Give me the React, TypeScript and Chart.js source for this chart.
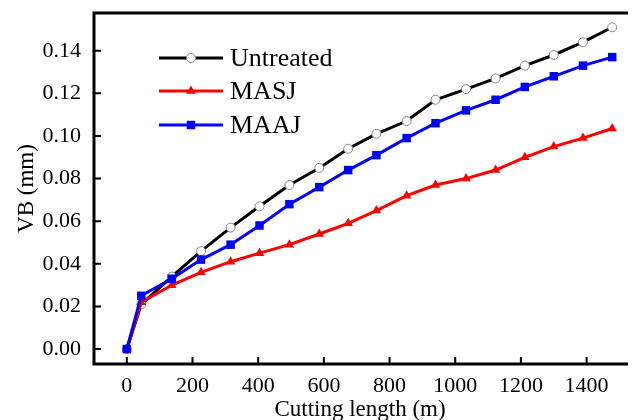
import React, { useEffect, useRef } from "react";
import { Chart, registerables } from "chart.js";

Chart.register(...registerables);

const cuttingLength = [0, 44, 137, 226, 316, 404, 495, 586, 674, 760, 852, 940, 1033, 1123, 1212, 1300, 1389, 1478];
const untreated = [0, 0.021, 0.034, 0.046, 0.057, 0.067, 0.077, 0.085, 0.094, 0.101, 0.107, 0.117, 0.122, 0.127, 0.133, 0.138, 0.144, 0.151];
const masj = [0, 0.022, 0.030, 0.036, 0.041, 0.045, 0.049, 0.054, 0.059, 0.065, 0.072, 0.077, 0.080, 0.084, 0.090, 0.095, 0.099, 0.1035];
const maaj = [0, 0.025, 0.033, 0.042, 0.049, 0.058, 0.068, 0.076, 0.084, 0.091, 0.099, 0.106, 0.112, 0.117, 0.123, 0.128, 0.133, 0.137];
const xTicks = [0, 200, 400, 600, 800, 1000, 1200, 1400];
const yTicks = [0, 0.02, 0.04, 0.06, 0.08, 0.1, 0.12, 0.14];
const seriesNames = ["Untreated", "MASJ", "MAAJ"];

const FONT = "'Liberation Serif', 'Times New Roman', serif";

function drawMarker(ctx: CanvasRenderingContext2D, style: string, x: number, y: number, r: number, fill: string, stroke: string, bw: number) {
  ctx.save();
  ctx.fillStyle = fill;
  ctx.strokeStyle = stroke;
  ctx.lineWidth = bw;
  ctx.beginPath();
  if (style === "circle") {
    ctx.arc(x, y, r, 0, Math.PI * 2);
  } else if (style === "triangle") {
    ctx.moveTo(x, y - r);
    ctx.lineTo(x + r * 0.866, y + r * 0.5);
    ctx.lineTo(x - r * 0.866, y + r * 0.5);
    ctx.closePath();
  } else {
    const s = r * 0.7071;
    ctx.rect(x - s, y - s, 2 * s, 2 * s);
  }
  ctx.fill();
  if (bw > 0) ctx.stroke();
  ctx.restore();
}

const framePlugin = {
  id: "frame",
  afterDatasetsDraw(chart: any) {
    const { ctx, chartArea } = chart;
    const { left, top, right, bottom } = chartArea;
    const xs = chart.scales.x;
    const ys = chart.scales.y;
    ctx.save();
    ctx.strokeStyle = "#000";
    ctx.lineWidth = 2;
    ctx.beginPath();
    xTicks.forEach((v) => {
      const px = xs.getPixelForValue(v);
      ctx.moveTo(px, bottom);
      ctx.lineTo(px, bottom - 7);
    });
    yTicks.forEach((v) => {
      const py = ys.getPixelForValue(v);
      ctx.moveTo(left, py);
      ctx.lineTo(left + 7, py);
    });
    ctx.stroke();
    ctx.lineWidth = 3;
    ctx.beginPath();
    ctx.moveTo(right + 2, top);
    ctx.lineTo(left, top);
    ctx.lineTo(left, bottom);
    ctx.lineTo(right + 2, bottom);
    ctx.stroke();

    const rows = [58, 91, 125];
    chart.data.datasets.forEach((ds: any, i: number) => {
      const y = rows[i];
      ctx.strokeStyle = ds.borderColor;
      ctx.lineWidth = 3;
      ctx.beginPath();
      ctx.moveTo(159, y);
      ctx.lineTo(223, y);
      ctx.stroke();
      drawMarker(ctx, ds.pointStyle, 191, y, ds.pointRadius, ds.pointBackgroundColor, ds.pointBorderColor, ds.pointBorderWidth);
      ctx.fillStyle = "#000";
      ctx.font = `26px ${FONT}`;
      ctx.textBaseline = "middle";
      ctx.textAlign = "left";
      ctx.fillText(ds.label, 230, y + 1);
    });
    ctx.restore();
  },
};

export default function App() {
  const ref = useRef<HTMLCanvasElement>(null);
  useEffect(() => {
    if (!ref.current) return;
    const mk = (vals: number[]) => cuttingLength.map((x, i) => ({ x, y: vals[i] }));
    const chart = new Chart(ref.current, {
      type: "line",
      data: {
        datasets: [
          {
            label: seriesNames[0],
            data: mk(untreated),
            borderColor: "#000000",
            borderWidth: 3,
            pointStyle: "circle",
            pointRadius: 4.5,
            pointBackgroundColor: "#ffffff",
            pointBorderColor: "#8a8a8a",
            pointBorderWidth: 1,
            order: 3,
          },
          {
            label: seriesNames[1],
            data: mk(masj),
            borderColor: "#ff0000",
            borderWidth: 3,
            pointStyle: "triangle",
            pointRadius: 5.5,
            pointBackgroundColor: "#ff0000",
            pointBorderColor: "#ff0000",
            pointBorderWidth: 0,
            order: 2,
          },
          {
            label: seriesNames[2],
            data: mk(maaj),
            borderColor: "#0000ff",
            borderWidth: 3,
            pointStyle: "rect",
            pointRadius: 6,
            pointBackgroundColor: "#0000ff",
            pointBorderColor: "#0000ff",
            pointBorderWidth: 0,
            order: 1,
          },
        ] as any,
      },
      options: {
        animation: false,
        responsive: true,
        maintainAspectRatio: false,
        layout: { padding: { top: 13, left: 0, right: 0, bottom: 0 } },
        plugins: { legend: { display: false }, tooltip: { enabled: false } },
        elements: { line: { tension: 0 } },
        scales: {
          x: {
            type: "linear",
            min: -100,
            max: 1520,
            grid: { display: false },
            border: { display: false },
            afterBuildTicks: (s: any) => {
              s.ticks = xTicks.map((v) => ({ value: v }));
            },
            afterFit: (s: any) => {
              s.height = 56;
              s.paddingLeft = 0;
              s.paddingRight = 0;
            },
            ticks: {
              color: "#000",
              padding: 1,
              maxRotation: 0,
              autoSkip: false,
              font: { family: FONT, size: 22 },
              callback: (v: any) => String(v),
            },
            title: {
              display: true,
              text: "Cutting length (m)",
              color: "#000",
              font: { family: FONT, size: 23 },
              padding: { top: 0, bottom: -4 },
            },
          },
          y: {
            type: "linear",
            min: -0.007,
            max: 0.1577,
            grid: { display: false },
            border: { display: false },
            afterBuildTicks: (s: any) => {
              s.ticks = yTicks.map((v) => ({ value: v }));
            },
            afterFit: (s: any) => {
              s.width = 94;
              s.paddingTop = 0;
              s.paddingBottom = 0;
            },
            ticks: {
              color: "#000",
              padding: 5,
              autoSkip: false,
              font: { family: FONT, size: 22 },
              callback: (v: any) => Number(v).toFixed(2),
            },
            title: {
              display: true,
              text: "VB (mm)",
              color: "#000",
              font: { family: FONT, size: 23 },
              padding: { top: 13, bottom: 0 },
            },
          },
        },
      } as any,
      plugins: [framePlugin],
    });
    return () => chart.destroy();
  }, []);
  return (
    <div style={{ position: "absolute", left: 0, top: 0, width: 632, height: 420, background: "#fff" }}>
      <canvas ref={ref} />
    </div>
  );
}
